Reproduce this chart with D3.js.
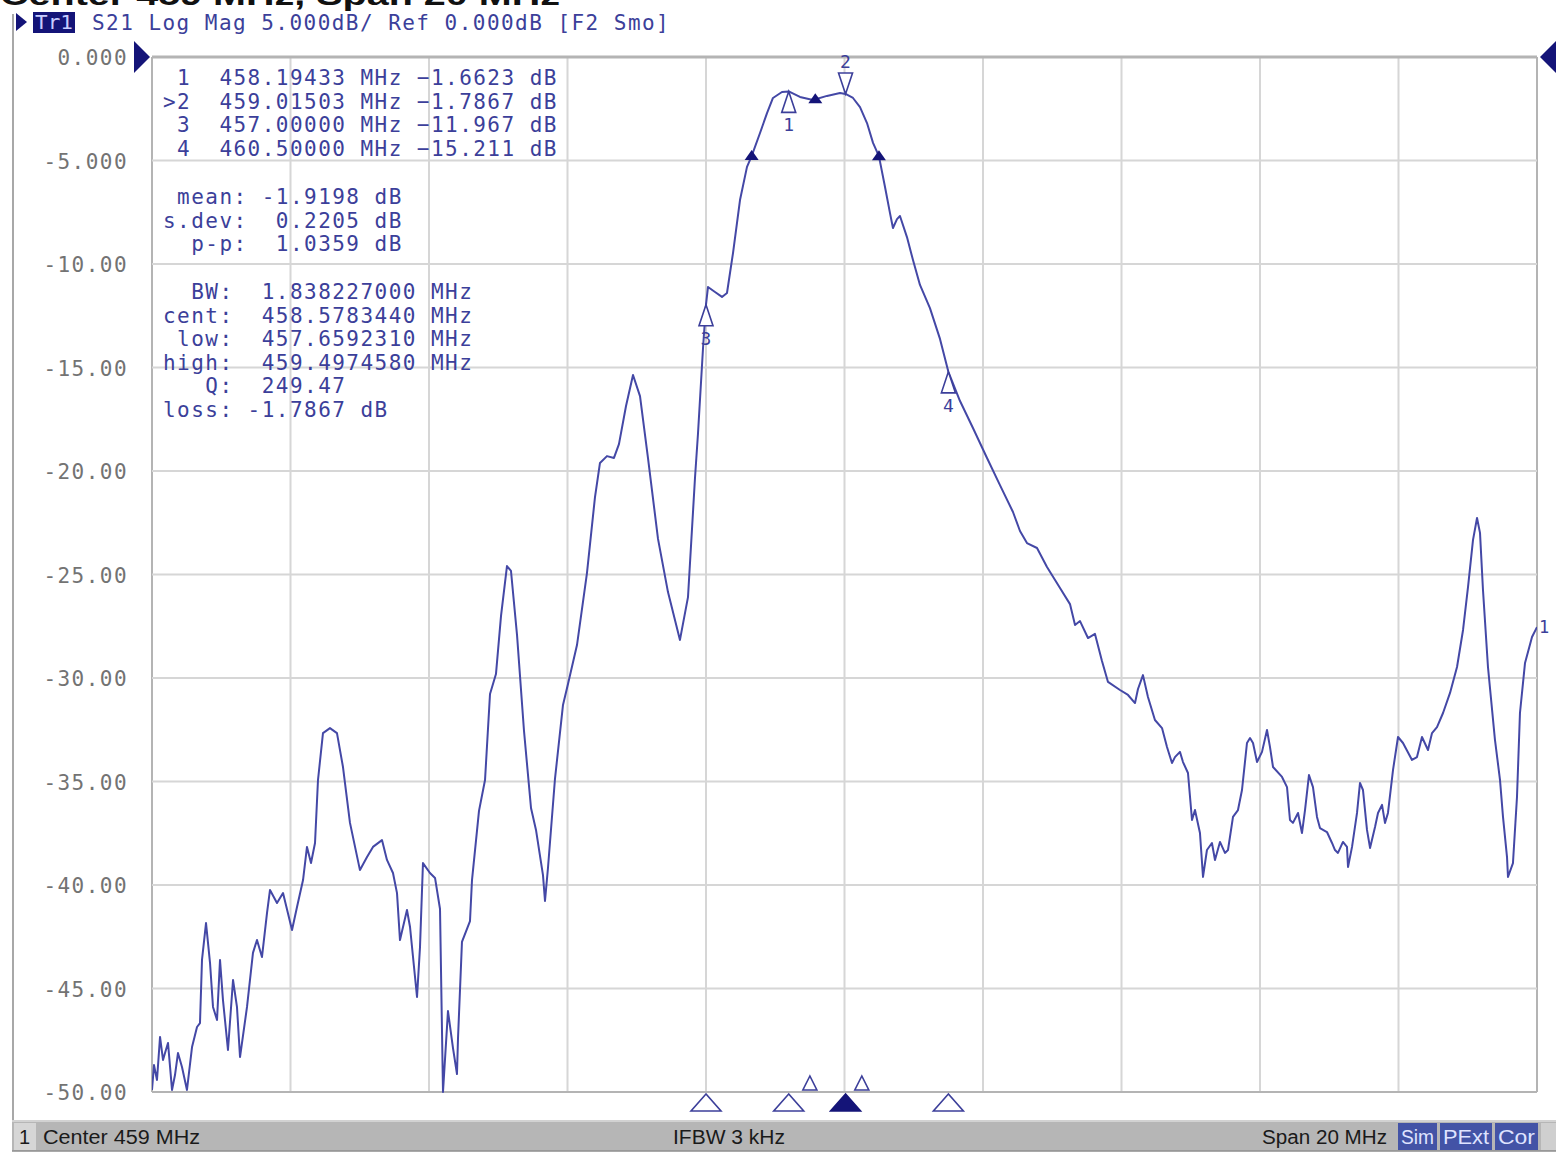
<!DOCTYPE html>
<html>
<head>
<meta charset="utf-8">
<script src="https://cdn.jsdelivr.net/npm/d3@7"></script>
<style>
  html, body { margin: 0; padding: 0; background: #fff; }
  svg { display: block; }
  .mono { font-family: "DejaVu Sans Mono", monospace; white-space: pre; }
  .readout { font-size: 21px; letter-spacing: 1.46px; }
  .ui { font-family: "Liberation Sans", Arial, sans-serif; }
</style>
</head>
<body>
<svg id="chart" width="1556" height="1159"></svg>
<script>
// S21 transmission sweep, centre 459 MHz, span 20 MHz (449–469 MHz)
const freqMHz = [
  449.000, 449.029, 449.072, 449.116, 449.159, 449.188, 449.231, 449.289, 449.332, 449.375,
  449.433, 449.505, 449.578, 449.650, 449.693, 449.722, 449.780, 449.838, 449.881, 449.939,
  449.982, 450.025, 450.097, 450.170, 450.227, 450.271, 450.372, 450.458, 450.516, 450.588,
  450.661, 450.704, 450.805, 450.892, 451.022, 451.094, 451.181, 451.238, 451.296, 451.354,
  451.397, 451.469, 451.570, 451.671, 451.758, 451.859, 452.003, 452.105, 452.191, 452.321,
  452.393, 452.480, 452.538, 452.581, 452.682, 452.726, 452.827, 452.870, 452.913, 453.014,
  453.087, 453.159, 453.202, 453.274, 453.346, 453.404, 453.419, 453.476, 453.592, 453.621,
  453.722, 453.809, 453.881, 453.967, 454.040, 454.126, 454.184, 454.271, 454.372, 454.473,
  454.545, 454.646, 454.675, 454.718, 454.819, 454.935, 455.007, 455.137, 455.281, 455.397,
  455.469, 455.570, 455.671, 455.743, 455.845, 455.946, 456.047, 456.162, 456.307, 456.451,
  456.624, 456.740, 456.841, 456.884, 456.957, 457.000, 457.029, 457.130, 457.231, 457.303,
  457.390, 457.491, 457.592, 457.659, 457.780, 457.881, 457.967, 458.097, 458.194, 458.357,
  458.545, 458.747, 458.935, 459.015, 459.123, 459.224, 459.325, 459.412, 459.497, 459.585,
  459.657, 459.700, 459.758, 459.801, 459.902, 459.989, 460.090, 460.234, 460.379, 460.500,
  460.668, 460.855, 461.058, 461.245, 461.433, 461.534, 461.635, 461.780, 461.924, 462.112,
  462.256, 462.329, 462.401, 462.516, 462.617, 462.718, 462.805, 462.978, 463.094, 463.195,
  463.238, 463.310, 463.382, 463.483, 463.585, 463.657, 463.729, 463.772, 463.844, 463.888,
  463.960, 464.018, 464.061, 464.133, 464.177, 464.234, 464.306, 464.350, 464.422, 464.494,
  464.538, 464.610, 464.682, 464.740, 464.812, 464.856, 464.899, 464.957, 465.029, 465.101,
  465.144, 465.188, 465.318, 465.390, 465.433, 465.476, 465.549, 465.606, 465.650, 465.707,
  465.765, 465.823, 465.866, 465.967, 466.040, 466.083, 466.126, 466.198, 466.256, 466.271,
  466.329, 466.401, 466.444, 466.487, 466.545, 466.589, 466.661, 466.704, 466.762, 466.805,
  466.848, 466.921, 466.993, 467.065, 467.195, 467.267, 467.339, 467.426, 467.484, 467.556,
  467.643, 467.744, 467.845, 467.932, 468.004, 468.076, 468.134, 468.177, 468.220, 468.292,
  468.393, 468.466, 468.509, 468.567, 468.581, 468.653, 468.711, 468.754, 468.827, 468.928,
  469.000
];
const s21dB = [
  -49.90, -48.70, -49.42, -47.34, -48.45, -48.12, -47.63, -49.90, -49.18, -48.12,
  -48.79, -49.90, -47.83, -46.86, -46.67, -43.62, -41.84, -43.77, -45.89, -46.52,
  -43.62, -45.56, -47.97, -44.59, -45.89, -48.31, -45.89, -43.28, -42.66, -43.48,
  -41.35, -40.24, -40.87, -40.39, -42.17, -41.06, -39.76, -38.16, -38.94, -37.97,
  -34.93, -32.66, -32.42, -32.66, -34.30, -37.00, -39.28, -38.65, -38.16, -37.83,
  -38.79, -39.42, -40.39, -42.66, -41.21, -42.03, -45.41, -43.00, -38.94, -39.42,
  -39.66, -41.16, -50.00, -46.09, -47.87, -49.13, -47.39, -42.75, -41.74, -39.76,
  -36.42, -34.93, -30.77, -29.81, -27.00, -24.59, -24.83, -27.92, -32.56, -36.28,
  -37.34, -39.52, -40.77, -39.18, -34.88, -31.30, -30.29, -28.41, -24.93, -21.26,
  -19.61, -19.28, -19.37, -18.70, -16.86, -15.36, -16.38, -19.37, -23.28, -25.85,
  -28.16, -26.09, -20.34, -18.21, -14.06, -11.967, -11.11, -11.35, -11.59, -11.40,
  -9.47, -6.91, -5.31, -4.79, -3.67, -2.71, -1.98, -1.69, -1.662, -1.93,
  -2.08, -1.88, -1.74, -1.787, -1.98, -2.42, -3.19, -4.15, -4.79, -6.28,
  -7.54, -8.26, -7.83, -7.68, -8.70, -9.81, -11.01, -12.13, -13.62, -15.211,
  -16.62, -17.92, -19.37, -20.68, -21.98, -22.90, -23.48, -23.72, -24.64, -25.65,
  -26.43, -27.44, -27.25, -28.07, -27.87, -29.18, -30.19, -30.58, -30.82, -31.21,
  -30.53, -29.86, -30.92, -32.03, -32.42, -33.33, -34.11, -33.82, -33.57, -34.06,
  -34.59, -36.86, -36.38, -37.49, -39.61, -38.31, -37.97, -38.79, -37.92, -38.45,
  -38.31, -36.71, -36.38, -35.41, -33.14, -32.90, -33.14, -34.06, -33.57, -32.51,
  -33.33, -34.30, -34.78, -35.27, -36.86, -37.00, -36.52, -37.49, -36.38, -34.69,
  -35.27, -36.71, -37.25, -37.44, -37.97, -38.31, -38.45, -37.92, -38.16, -39.13,
  -38.16, -36.52, -35.07, -35.41, -37.34, -38.21, -37.20, -36.52, -36.13, -37.00,
  -36.52, -34.44, -32.85, -33.14, -33.96, -33.82, -32.85, -33.48, -32.66, -32.37,
  -31.69, -30.72, -29.47, -27.68, -25.60, -23.33, -22.27, -22.99, -25.75, -29.47,
  -32.99, -34.93, -36.71, -38.65, -39.61, -38.94, -35.75, -31.69, -29.27, -28.02,
  -27.54
];

// Axis ticks
const yTickValues = [0, -5, -10, -15, -20, -25, -30, -35, -40, -45, -50];
const yTickLabels = ["0.000", "-5.000", "-10.00", "-15.00", "-20.00", "-25.00",
                     "-30.00", "-35.00", "-40.00", "-45.00", "-50.00"];
const xGridValues = [449, 451, 453, 455, 457, 459, 461, 463, 465, 467, 469];

// Markers
const markerIds = ["1", "2", "3", "4"];
const markerFreq = [458.19433, 459.01503, 457.00000, 460.50000];
const markerDb = [-1.6623, -1.7867, -11.967, -15.211];
const activeMarker = "2";

// Statistics readout
const statLabels = [" mean:", "s.dev:", "  p-p:"];
const statValues = [-1.9198, 0.2205, 1.0359];

// Bandwidth search readout
const bwMHz = 1.838227;
const bwCentMHz = 458.578344;
const bwLowMHz = 457.659231;
const bwHighMHz = 459.497458;
const bwQ = 249.47;
const bwLossDb = -1.7867;

// Extra indicator positions along the bottom edge
const smallIndicatorFreq = [458.50, 459.25];

// Status bar
const statusLabels = ["Center 459 MHz", "IFBW 3 kHz", "Span 20 MHz"];
const statusFlags = ["Sim", "PExt", "Cor"];

const svg = d3.select("#chart");
const W = 1556, H = 1159;
const plot = { left: 152, right: 1537, top: 57, bottom: 1092 };

const x = d3.scaleLinear().domain([449, 469]).range([plot.left, plot.right]);
const y = d3.scaleLinear().domain([0, -50]).range([plot.top, plot.bottom]);

const blue = "#3c3f9a";
const navy = "#141478";
const gridC = "#d6d6d6";
const frameC = "#b4b4b4";

svg.append("rect").attr("width", W).attr("height", H).attr("fill", "#fff");

// Title line above the window (cut by the top edge)
svg.append("text")
  .attr("class", "ui")
  .attr("x", 0).attr("y", 5)
  .attr("font-size", 30).attr("font-weight", "bold").attr("fill", "#111")
  .attr("textLength", 560).attr("lengthAdjust", "spacingAndGlyphs")
  .text("Center 459 MHz, Span 20 MHz");

// Window frame on the left
svg.append("line")
  .attr("x1", 13).attr("x2", 13).attr("y1", 14).attr("y2", 1121)
  .attr("stroke", "#a8a8a8").attr("stroke-width", 2);

// Channel header
svg.append("path")
  .attr("d", "M16,13 L27,22 L16,31 Z").attr("fill", navy);
svg.append("rect")
  .attr("x", 33).attr("y", 12).attr("width", 42).attr("height", 21)
  .attr("fill", navy);
svg.append("text")
  .attr("class", "mono").attr("x", 35).attr("y", 29)
  .attr("font-size", 20).attr("fill", "#c8ccff")
  .attr("textLength", 38).attr("lengthAdjust", "spacingAndGlyphs")
  .text("Tr1");
svg.append("text")
  .attr("class", "mono readout").attr("x", 92).attr("y", 30)
  .attr("fill", blue)
  .text("S21 Log Mag 5.000dB/ Ref 0.000dB [F2 Smo]");

// Grid
const grid = svg.append("g");
grid.selectAll("line.v").data(xGridValues).join("line")
  .attr("x1", d => x(d)).attr("x2", d => x(d))
  .attr("y1", plot.top).attr("y2", plot.bottom)
  .attr("stroke", (d, i) => (i === 0 || i === xGridValues.length - 1) ? frameC : gridC)
  .attr("stroke-width", 2);
grid.selectAll("line.h").data(yTickValues).join("line")
  .attr("x1", plot.left).attr("x2", plot.right)
  .attr("y1", d => y(d)).attr("y2", d => y(d))
  .attr("stroke", (d, i) => (i === 0 || i === yTickValues.length - 1) ? frameC : gridC)
  .attr("stroke-width", (d, i) => i === 0 ? 3 : 2);

// Y-axis labels
svg.append("g").selectAll("text").data(yTickValues).join("text")
  .attr("class", "mono readout")
  .attr("x", 128).attr("y", d => y(d) + 8)
  .attr("text-anchor", "end")
  .attr("fill", "#737373")
  .text((d, i) => yTickLabels[i]);

// Reference level arrows
svg.append("path")
  .attr("d", `M134,${y(0) - 16} L150,${y(0)} L134,${y(0) + 16} Z`).attr("fill", navy);
svg.append("path")
  .attr("d", `M1556,${y(0) - 16} L1540,${y(0)} L1556,${y(0) + 16} Z`).attr("fill", navy);

// Trace
svg.append("clipPath").attr("id", "plotClip")
  .append("rect")
  .attr("x", plot.left).attr("y", plot.top - 2)
  .attr("width", plot.right - plot.left).attr("height", plot.bottom - plot.top + 3);

const traceData = freqMHz.map((f, i) => [f, s21dB[i]]);
const line = d3.line().x(d => x(d[0])).y(d => y(d[1]));
svg.append("path")
  .datum(traceData)
  .attr("clip-path", "url(#plotClip)")
  .attr("d", line)
  .attr("fill", "none")
  .attr("stroke", "#4448a6")
  .attr("stroke-width", 2)
  .attr("stroke-linejoin", "round");

// Trace number at the right edge
svg.append("text")
  .attr("class", "mono")
  .attr("x", 1539).attr("y", y(s21dB[s21dB.length - 1]) + 6)
  .attr("font-size", 17).attr("fill", blue)
  .text("1");

// Bandwidth search points on the trace
const traceAt = f => {
  const i = d3.bisector(d => d).left(freqMHz, f);
  if (i <= 0) return s21dB[0];
  const f0 = freqMHz[i - 1], f1 = freqMHz[i];
  const t = (f - f0) / (f1 - f0);
  return s21dB[i - 1] + t * (s21dB[i] - s21dB[i - 1]);
};
svg.append("g").selectAll("path")
  .data([bwLowMHz, bwCentMHz, bwHighMHz]).join("path")
  .attr("d", f => {
    const px = x(f), py = y(traceAt(f));
    return `M${px},${py - 6} L${px - 7},${py + 4} L${px + 7},${py + 4} Z`;
  })
  .attr("fill", navy);

// Marker symbols on the trace
const mk = svg.append("g");
markerIds.forEach((id, i) => {
  const px = x(markerFreq[i]), py = y(markerDb[i]);
  if (id === activeMarker) {
    mk.append("path")
      .attr("d", `M${px},${py} L${px - 7},${py - 21} L${px + 7},${py - 21} Z`)
      .attr("fill", "#fff").attr("stroke", blue).attr("stroke-width", 1.6);
    mk.append("text").attr("class", "mono")
      .attr("x", px).attr("y", py - 26).attr("text-anchor", "middle")
      .attr("font-size", 18).attr("fill", blue).text(id);
  } else {
    mk.append("path")
      .attr("d", `M${px},${py} L${px - 7},${py + 21} L${px + 7},${py + 21} Z`)
      .attr("fill", "#fff").attr("stroke", blue).attr("stroke-width", 1.6);
    mk.append("text").attr("class", "mono")
      .attr("x", px).attr("y", py + 40).attr("text-anchor", "middle")
      .attr("font-size", 18).attr("fill", blue).text(id);
  }
});

// Marker position indicators under the grid
markerIds.forEach((id, i) => {
  const px = x(markerFreq[i]);
  svg.append("path")
    .attr("d", `M${px},1094 L${px - 15},1111 L${px + 15},1111 Z`)
    .attr("fill", id === activeMarker ? navy : "#fff")
    .attr("stroke", id === activeMarker ? navy : blue)
    .attr("stroke-width", 1.6);
});
smallIndicatorFreq.forEach(f => {
  const px = x(f);
  svg.append("path")
    .attr("d", `M${px},1076 L${px - 7},1090 L${px + 7},1090 Z`)
    .attr("fill", "#fff").attr("stroke", blue).attr("stroke-width", 1.6);
});

// Marker readout table
const fmtDb = d3.format(".5");
const markerLines = markerIds.map((id, i) =>
  (id === activeMarker ? ">" : " ") + id + "  " + markerFreq[i].toFixed(5) +
  " MHz " + fmtDb(markerDb[i]) + " dB");
svg.append("g").selectAll("text").data(markerLines).join("text")
  .attr("class", "mono readout")
  .attr("x", 163).attr("y", (d, i) => 85 + i * 23.6)
  .attr("fill", blue)
  .text(d => d);

// Statistics block
const statLines = statLabels.map((l, i) => {
  const v = statValues[i].toFixed(4);
  return l + (statValues[i] < 0 ? " " : "  ") + v + " dB";
});
svg.append("g").selectAll("text").data(statLines).join("text")
  .attr("class", "mono readout")
  .attr("x", 163).attr("y", (d, i) => 204 + i * 23.6)
  .attr("fill", blue)
  .text(d => d);

// Bandwidth block
const bwLines = [
  "  BW:  " + bwMHz.toFixed(9) + " MHz",
  "cent:  " + bwCentMHz.toFixed(7) + " MHz",
  " low:  " + bwLowMHz.toFixed(7) + " MHz",
  "high:  " + bwHighMHz.toFixed(7) + " MHz",
  "   Q:  " + bwQ.toFixed(2),
  "loss: " + bwLossDb.toFixed(4) + " dB"
];
svg.append("g").selectAll("text").data(bwLines).join("text")
  .attr("class", "mono readout")
  .attr("x", 163).attr("y", (d, i) => 299 + i * 23.6)
  .attr("fill", blue)
  .text(d => d);

// Status bar
const bar = svg.append("g");
bar.append("rect").attr("x", 12).attr("y", 1121).attr("width", W - 12).attr("height", 30)
  .attr("fill", "#b6b6b6");
bar.append("line").attr("x1", 12).attr("x2", W).attr("y1", 1121).attr("y2", 1121)
  .attr("stroke", "#d2d2d2").attr("stroke-width", 2);
bar.append("line").attr("x1", 12).attr("x2", W).attr("y1", 1151).attr("y2", 1151)
  .attr("stroke", "#8e8e8e").attr("stroke-width", 1.5);
bar.append("rect").attr("x", 14).attr("y", 1123).attr("width", 22).attr("height", 27)
  .attr("fill", "#d6d6d6");
bar.append("text").attr("class", "ui").attr("x", 19).attr("y", 1144)
  .attr("font-size", 20).attr("fill", "#1a1a1a").text("1");
const statusX = [43, 673, 1262];
const statusW = [157, 112, 125];
bar.selectAll("text.st").data(statusLabels).join("text")
  .attr("class", "ui st")
  .attr("x", (d, i) => statusX[i]).attr("y", 1144)
  .attr("font-size", 20).attr("fill", "#1a1a1a")
  .attr("textLength", (d, i) => statusW[i]).attr("lengthAdjust", "spacingAndGlyphs")
  .text(d => d);
const flagX = [1398, 1440, 1495];
const flagW = [39, 52, 43];
statusFlags.forEach((s, i) => {
  bar.append("rect").attr("x", flagX[i]).attr("y", 1123)
    .attr("width", flagW[i]).attr("height", 27).attr("fill", "#4353a6");
  bar.append("text").attr("class", "ui")
    .attr("x", flagX[i] + 3).attr("y", 1144)
    .attr("font-size", 20).attr("fill", "#dfe3ff")
    .attr("textLength", flagW[i] - 6).attr("lengthAdjust", "spacingAndGlyphs")
    .text(s);
});
bar.append("rect").attr("x", 1541).attr("y", 1123).attr("width", 15).attr("height", 27)
  .attr("fill", "#cfcfcf");
</script>
</body>
</html>
